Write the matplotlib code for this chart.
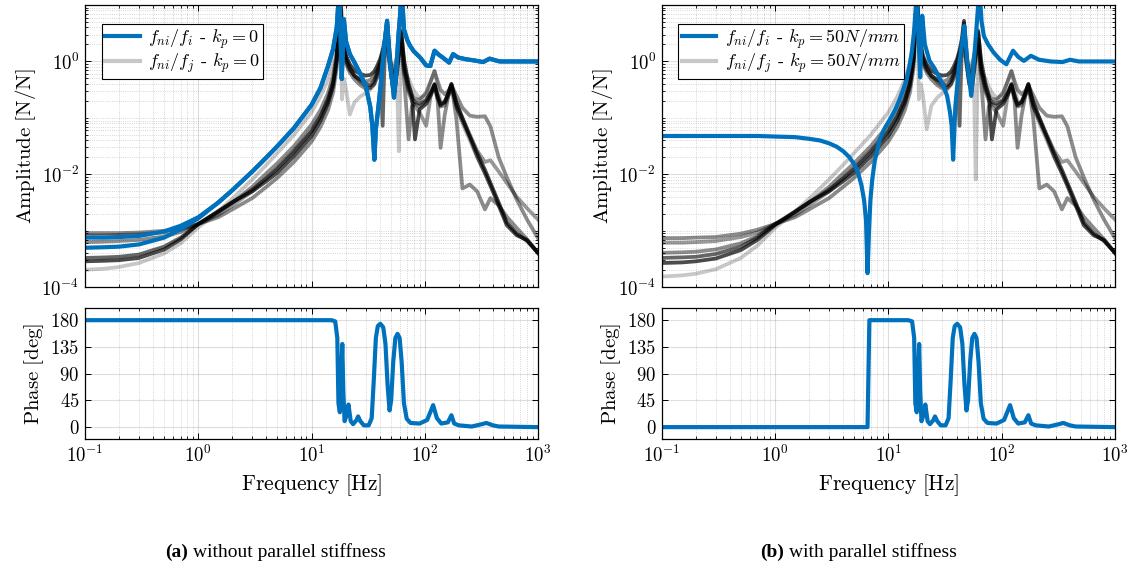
import numpy as np
import matplotlib
matplotlib.use('Agg')
import matplotlib.pyplot as plt
from matplotlib.ticker import LogLocator, NullFormatter, FixedLocator
from matplotlib.lines import Line2D

plt.rcParams.update({
    'font.family': 'serif',
    'font.serif': ['cmr10'],
    'mathtext.fontset': 'cm',
    'axes.formatter.use_mathtext': True,
})

# ---------------- data (log10 of amplitude) ----------------
freq = [0.1, 0.15, 0.2, 0.3, 0.5, 0.7, 1.0, 1.5, 2, 3, 4, 5, 7, 10, 12, 14, 15.5, 16.7,
        17.6, 18.2, 18.6, 19.3, 20.2, 21.8, 24, 27, 30, 33, 35.7, 38, 40.5, 42.5, 44.5, 46.5,
        49, 51.6, 54, 57, 59, 62, 66, 72, 77, 82, 90, 103, 113, 122, 130, 138, 150, 162, 172,
        190, 215, 250, 290, 340, 380, 450, 530, 650, 800, 1000]

# high-frequency part (17.6 Hz and above) of the off-diagonal curves
g1_high = [0.9, 1.0, 0.5, 0.25, 0.05, -0.12, -0.25, -0.32, -0.36, -0.33,
           -0.26, -0.15, 0.0, 0.15, 0.32, 0.55, 0.05, -0.2, -0.1, 0.1,
           0.25, 0.4, -0.15, -0.45, -0.6, -0.66, -0.68, -0.55, -0.35, -0.17,
           -0.35, -0.5, -0.58, -0.52, -0.42, -0.6, -0.82, -0.96, -0.98, -0.97,
           -1.15, -1.70, -2.05, -2.45, -2.80, -3.13]
g2_high = [0.95, 0.8, 0.4, 0.15, -0.05, -0.2, -0.32, -0.42, -0.48, -0.46,
           -0.40, -0.28, -0.12, 0.02, 0.18, 0.30, -0.05, -0.35, -0.3, -0.05,
           0.15, 0.3, -0.35, -1.38, -0.8, -0.75, -0.8, -0.7, -0.55, -0.42,
           -0.7, -1.53, -0.95, -0.6, -0.42, -1.0, -2.25, -2.18, -2.30, -2.62,
           -2.42, -2.55, -2.75, -2.95, -3.15, -3.39]
g3_high = [1.0, 0.7, 0.45, 0.2, 0.0, -0.15, -0.26, -0.33, -0.40, -0.42,
           -0.34, -0.2, -0.05, -1.14, 0.25, 0.68, 0.0, -0.4, -0.45, -0.1,
           0.2, 0.55, -0.1, -0.5, -0.65, -0.72, -0.75, -0.68, -0.55, -0.40,
           -0.6, -0.75, -0.72, -0.55, -0.40, -0.8, -1.05, -1.35, -1.68, -1.98,
           -2.2, -2.55, -2.9, -3.08, -3.16, -3.39]
g4_high = [1.1, 0.9, 0.5, 0.3, 0.1, -0.05, -0.16, -0.22, -0.25, -0.24,
           -0.18, -0.08, 0.05, 0.2, 0.4, 0.72, 0.15, -0.25, -0.55, -0.2,
           0.1, 0.52, 0.0, -0.4, -0.6, -1.38, -0.85, -0.75, -0.6, -0.42,
           -0.65, -0.78, -0.72, -0.56, -0.40, -0.72, -1.0, -1.32, -1.62, -1.92,
           -2.15, -2.5, -2.85, -3.05, -3.18, -3.39]
g5_high_a = [0.8, 0.3, -0.67, -0.3, -0.5, -0.94, -0.72, -0.62, -0.56, -0.50,
             -0.42, -0.3, -0.15, -0.02, 0.12, 0.25, -0.1, -0.35, -0.2, -0.4,
             -1.59, 0.2, -0.2, -0.3, -0.45, -0.55, -0.65, -0.6, -0.35, -0.17,
             -0.45, -0.7, -0.72, -0.6, -0.45, -0.8, -1.1, -1.4, -1.7, -1.98,
             -2.2, -2.55, -2.9, -3.08, -3.16, -3.39]
g5_high_b = [0.8, 0.3, -0.67, -0.4, -0.6, -1.2, -0.78, -0.64, -0.56, -0.50,
             -0.42, -0.3, -0.15, -0.02, 0.12, 0.25, -0.1, -0.35, -0.2, -0.45,
             -2.09, 0.2, -0.2, -0.3, -0.45, -0.55, -0.65, -0.6, -0.35, -0.17,
             -0.45, -0.7, -0.72, -0.6, -0.45, -0.8, -1.1, -1.4, -1.7, -1.98,
             -2.2, -2.55, -2.9, -3.08, -3.16, -3.39]
g6_high = [1.0, 1.1, 0.55, 0.3, 0.08, -0.1, -0.25, -0.36, -0.44, -0.48,
           -0.4, -0.22, 0.0, 0.15, 0.3, 0.45, 0.05, -0.3, -0.2, 0.0,
           0.2, 0.35, -0.2, -0.55, -0.7, -0.8, -0.9, -1.14, -0.6, -0.40,
           -0.6, -0.8, -0.78, -0.6, -0.45, -0.75, -1.0, -1.3, -1.58, -1.78,
           -1.75, -1.95, -2.15, -2.4, -2.6, -2.80]

# low-frequency part (0.1 .. 16.7 Hz), panel (a) k_p = 0
g1_low_a = [-3.04, -3.04, -3.04, -3.03, -3.00, -2.96, -2.88, -2.76, -2.62, -2.42, -2.22, -2.06, -1.78, -1.42, -1.16, -0.86, -0.55, -0.12]
g2_low_a = [-3.20, -3.19, -3.18, -3.16, -3.10, -3.02, -2.88, -2.68, -2.50, -2.22, -1.98, -1.80, -1.50, -1.12, -0.86, -0.56, -0.26, 0.15]
g3_low_a = [-3.48, -3.47, -3.46, -3.42, -3.28, -3.12, -2.88, -2.66, -2.50, -2.27, -2.07, -1.90, -1.60, -1.24, -0.98, -0.68, -0.38, 0.06]
g4_low_a = [-3.54, -3.53, -3.52, -3.48, -3.33, -3.15, -2.88, -2.65, -2.49, -2.30, -2.12, -1.97, -1.68, -1.32, -1.05, -0.74, -0.44, 0.0]
g5_low_a = [-3.69, -3.67, -3.64, -3.57, -3.40, -3.22, -2.94, -2.66, -2.43, -2.09, -1.83, -1.62, -1.30, -0.90, -0.62, -0.32, -0.02, 0.40]
g6_low_a = [-3.08, -3.08, -3.07, -3.06, -3.03, -2.98, -2.88, -2.72, -2.55, -2.30, -2.06, -1.88, -1.58, -1.22, -0.96, -0.66, -0.36, 0.04]

# low-frequency part, panel (b) k_p = 50 N/mm
g1_low_b = [-3.13, -3.13, -3.12, -3.11, -3.05, -2.98, -2.88, -2.76, -2.62, -2.42, -2.22, -2.06, -1.78, -1.42, -1.16, -0.86, -0.55, -0.12]
g2_low_b = [-3.39, -3.38, -3.37, -3.33, -3.22, -3.09, -2.88, -2.68, -2.50, -2.22, -1.98, -1.80, -1.50, -1.12, -0.86, -0.56, -0.26, 0.15]
g3_low_b = [-3.48, -3.47, -3.46, -3.41, -3.28, -3.12, -2.88, -2.66, -2.50, -2.27, -2.07, -1.90, -1.60, -1.24, -0.98, -0.68, -0.38, 0.06]
g4_low_b = [-3.57, -3.56, -3.54, -3.49, -3.34, -3.16, -2.90, -2.66, -2.49, -2.30, -2.12, -1.97, -1.68, -1.32, -1.05, -0.74, -0.44, 0.0]
g5_low_b = [-3.81, -3.79, -3.76, -3.68, -3.48, -3.26, -2.95, -2.66, -2.43, -2.09, -1.83, -1.62, -1.30, -0.90, -0.62, -0.32, -0.02, 0.40]
g6_low_b = [-3.21, -3.21, -3.20, -3.18, -3.11, -3.03, -2.88, -2.72, -2.55, -2.30, -2.06, -1.88, -1.58, -1.22, -0.96, -0.66, -0.36, 0.04]

# diagonal terms f_ni/f_i, panel (a)
blue_a_f = [0.1, 0.15, 0.2, 0.3, 0.5, 0.7, 1.0, 1.5, 2, 3, 4, 5, 7, 10, 12, 14, 15.5, 16.7, 17.6, 18.1,
            18.5, 19.3, 20.2, 21.8, 24, 27, 30, 33, 34.5, 35.9, 37, 39, 41, 44, 46.5, 49, 51.6, 53.5, 56, 58.5,
            60.5, 62.5, 65.5, 70, 74, 80, 91, 103, 112, 122, 133, 144, 155, 164, 178, 197, 230, 269, 328, 374,
            420, 460, 600, 1000]
blue_a1 = [-3.12, -3.12, -3.11, -3.09, -3.01, -2.91, -2.76, -2.50, -2.28, -1.95,
           -1.70, -1.50, -1.18, -0.77, -0.47, -0.08, 0.22, 0.60, 1.3, 0.4,
           -0.31, 0.75, 0.35, 0.13, -0.02, -0.22, -0.42, -0.8, -1.15, -1.74,
           -1.2, -0.8, -0.38, 0.3, 0.72, 0.04, -0.35, -0.64, -0.2, 0.45,
           0.8, 1.3, 0.57, 0.38, 0.28, 0.18, 0.07, -0.07, -0.08, 0.19,
           0.12, 0.07, 0.02, -0.02, 0.13, 0.07, 0.04, 0.02, -0.01, 0.05,
           0.02, 0.0, 0.0, 0.0]
blue_a2 = [-3.30, -3.29, -3.28, -3.24, -3.12, -2.97, -2.78, -2.50, -2.28, -1.95,
           -1.70, -1.50, -1.18, -0.77, -0.47, -0.08, 0.22, 0.60, 1.3, 0.4,
           -0.31, 0.75, 0.35, 0.13, -0.02, -0.22, -0.42, -0.8, -1.15, -1.74,
           -1.2, -0.8, -0.38, 0.3, 0.72, 0.04, -0.35, -0.64, -0.2, 0.45,
           0.8, 1.3, 0.57, 0.38, 0.28, 0.18, 0.07, -0.07, -0.08, 0.19,
           0.12, 0.07, 0.02, -0.02, 0.13, 0.07, 0.04, 0.02, -0.01, 0.05,
           0.02, 0.0, 0.0, 0.0]

# diagonal term f_ni/f_i, panel (b)
blue_b_f = [0.1, 0.3, 0.7, 1.0, 1.5, 2.0, 2.5, 3.0, 3.5, 4.0, 4.5, 5.0, 5.4, 5.8, 6.1, 6.35, 6.55, 6.75, 6.95, 7.2,
            7.6, 8.4, 9.3, 10.3, 11.5, 12.6, 13.6, 14.5, 15.3, 16.1, 16.8, 17.4, 17.8, 18.4, 19.1, 19.9, 21.0, 23.1, 25.5, 27.8,
            30.5, 33.0, 35.0, 36.2, 37.3, 39.0, 42.0, 44.5, 46.8, 50.0, 53.9, 58.0, 60.5, 63.5, 66.5, 69.7, 76, 84.8, 97, 110,
            126, 140, 157, 181, 214, 270, 345, 401, 480, 1000]
blue_b = [-1.32, -1.32, -1.32, -1.33, -1.34, -1.37, -1.40, -1.45, -1.51, -1.59,
          -1.69, -1.82, -1.97, -2.20, -2.45, -2.80, -3.75, -3.0, -2.45, -2.10,
          -1.75, -1.38, -1.18, -1.03, -0.85, -0.67, -0.48, -0.31, -0.10, 0.16,
          0.5, 0.9, 1.3, 0.5, -0.28, 0.81, 0.3, 0.01, -0.12, -0.26,
          -0.42, -0.61, -0.9, -1.14, -1.74, -0.8, -0.08, 0.3, 0.63, -0.08,
          -0.61, 0.22, 0.7, 1.3, 0.7, 0.45, 0.3, 0.16, 0.03, -0.05,
          0.19, 0.08, 0.01, 0.10, 0.03, 0.0, -0.01, 0.03, 0.0, 0.0]

# phase of f_ni/f_i [deg]
phase_a_f = [0.1, 15.0, 16.2, 16.9, 17.3, 17.8, 18.4, 18.7, 19.1, 19.6, 20.4, 21.2, 22.2, 23.3, 25.0, 25.8, 27.0,
             29.0, 32.0, 34.0, 35.5, 37.0, 38.5, 40.5, 43.0, 45.0, 47.0, 48.9, 50.5, 52.7, 55.0, 57.5, 60.0,
             62.5, 65.5, 69.3, 75, 90, 105, 118.6, 128, 140, 160, 172, 182, 200, 260, 320, 350, 400, 450, 1000]
phase_a = [180, 180, 178, 150, 40, 25, 100, 140, 60, 10, 20, 38, 10, 5, 12, 18, 10,
           3, 3, 15, 80, 150, 170, 174, 168, 140, 70, 28, 45, 110, 150, 157, 150,
           110, 40, 14, 7, 6, 12, 37, 15, 6, 8, 20, 6, 3, 1, 5, 7, 3, 1, 0]
phase_b_f = [0.1, 6.55, 6.8, 15.0, 16.2, 16.9, 17.3, 17.8, 18.4, 18.7, 19.1, 19.6, 20.4, 21.2, 22.2, 23.3, 25.0, 25.8, 27.0,
             29.0, 32.0, 34.0, 35.5, 37.0, 38.5, 40.5, 43.0, 45.0, 47.0, 48.9, 50.5, 52.7, 55.0, 57.5, 60.0,
             62.5, 65.5, 69.3, 75, 90, 105, 118.6, 128, 140, 160, 172, 182, 200, 260, 320, 350, 400, 450, 1000]
phase_b = [0, 0, 180, 180, 178, 150, 40, 25, 100, 140, 60, 10, 20, 38, 10, 5, 12, 18, 10,
           3, 3, 15, 80, 150, 170, 174, 168, 140, 70, 28, 45, 110, 150, 157, 150,
           110, 40, 14, 7, 6, 12, 37, 15, 6, 8, 20, 6, 3, 1, 5, 7, 3, 1, 0]

x_ticks = [1e-1, 1e0, 1e1, 1e2, 1e3]
amp_ticks = [1e-4, 1e-2, 1e0]
phase_ticks = [0, 45, 90, 135, 180]
legend_a = [r'$f_{ni}/f_i$ - $k_p = 0$', r'$f_{ni}/f_j$ - $k_p = 0$']
legend_b = [r'$f_{ni}/f_i$ - $k_p = 50N/mm$', r'$f_{ni}/f_j$ - $k_p = 50N/mm$']

# ---------------- style ----------------
BLUE = (0.0, 0.447, 0.741)
LW_B = 3.0
LW_G = 2.7
gray_alpha = [0.45, 0.45, 0.6, 0.7, 0.22, 0.4]
GRID_C = (0.15, 0.15, 0.15)

W, H = 1136, 570
fig = plt.figure(figsize=(W / 100, H / 100), dpi=100)


def rect(x0, y0, x1, y1):
    return [x0 / W, 1 - y1 / H, (x1 - x0) / W, (y1 - y0) / H]


def style_axes(ax):
    ax.set_xscale('log')
    ax.set_xlim(1e-1, 1e3)
    ax.xaxis.set_major_locator(FixedLocator(x_ticks))
    ax.xaxis.set_minor_locator(LogLocator(base=10, subs=np.arange(2, 10), numticks=100))
    ax.xaxis.set_minor_formatter(NullFormatter())
    ax.tick_params(which='both', direction='in', top=True, right=True, labelsize=13.5, pad=4)
    ax.tick_params(which='major', length=4, width=0.7)
    ax.tick_params(which='minor', length=2.2, width=0.6)
    for s in ax.spines.values():
        s.set_linewidth(0.9)
    ax.grid(True, which='major', color=GRID_C, alpha=0.15, linewidth=0.8, linestyle='-')
    ax.set_axisbelow(True)


def amp_axes(ax, grays, blues, blue_f, labels):
    style_axes(ax)
    ax.set_yscale('log')
    for vals, a in zip(grays, gray_alpha):
        ax.plot(freq, 10 ** np.array(vals), color='k', alpha=a, lw=LW_G, solid_joinstyle='round')
    for vals in blues:
        ax.plot(blue_f, 10 ** np.array(vals), color=BLUE, lw=LW_B, solid_joinstyle='round')
    ax.set_ylim(1e-4, 1e1)
    ax.yaxis.set_major_locator(FixedLocator(amp_ticks))
    ax.yaxis.set_minor_locator(LogLocator(base=10, subs=np.arange(1, 10), numticks=100))
    ax.yaxis.set_minor_formatter(NullFormatter())
    ax.grid(True, which='minor', color=GRID_C, alpha=0.25, linewidth=0.6, linestyle=':')
    ax.set_xticklabels([])
    ax.set_ylabel(r'$\mathrm{Amplitude\ [N/N]}$', fontsize=15)
    ax.yaxis.set_label_coords(-0.103, 0.5)
    handles = [Line2D([], [], color=BLUE, lw=LW_B), Line2D([], [], color='k', alpha=0.22, lw=LW_B)]
    leg = ax.legend(handles, labels, loc='upper left', bbox_to_anchor=(0.037, 0.933),
                    borderaxespad=0, fontsize=13, fancybox=False, framealpha=1, edgecolor='k',
                    handlelength=1.9, handletextpad=0.45, borderpad=0.2, labelspacing=0.05)
    leg.get_frame().set_linewidth(0.8)


def phase_axes(ax, pf, pv):
    style_axes(ax)
    ax.plot(pf, pv, color=BLUE, lw=LW_B, solid_joinstyle='round')
    ax.set_ylim(-20, 200)
    ax.set_yticks(phase_ticks)
    ax.grid(True, which='minor', axis='x', color=GRID_C, alpha=0.25, linewidth=0.6, linestyle=':')
    ax.set_ylabel(r'$\mathrm{Phase\ [deg]}$', fontsize=15)
    ax.yaxis.set_label_coords(-0.086, 0.5)
    ax.set_xlabel(r'$\mathrm{Frequency\ [Hz]}$', fontsize=15.5)
    ax.xaxis.set_label_coords(0.5, -0.255)


grays_a = [g1_low_a + g1_high, g2_low_a + g2_high, g3_low_a + g3_high,
           g4_low_a + g4_high, g5_low_a + g5_high_a, g6_low_a + g6_high]
grays_b = [g1_low_b + g1_high, g2_low_b + g2_high, g3_low_b + g3_high,
           g4_low_b + g4_high, g5_low_b + g5_high_b, g6_low_b + g6_high]

ax1 = fig.add_axes(rect(85, 5, 538, 287.3))
ax2 = fig.add_axes(rect(85, 308.3, 538, 439))
ax3 = fig.add_axes(rect(661.7, 5, 1115, 287.3))
ax4 = fig.add_axes(rect(661.7, 308.3, 1115, 439))

amp_axes(ax1, grays_a, [blue_a1, blue_a2], blue_a_f, legend_a)
phase_axes(ax2, phase_a_f, phase_a)
amp_axes(ax3, grays_b, [blue_b], blue_b_f, legend_b)
phase_axes(ax4, phase_b_f, phase_b)

# sub-captions
cap_font = 'Liberation Serif'
for xc, tag, txt in [(165, '(a)', 'without parallel stiffness'), (760, '(b)', 'with parallel stiffness')]:
    t1 = fig.text(xc / W, 1 - 557 / H, tag, fontsize=14, fontweight='bold', family=cap_font, va='baseline')
    ax1.annotate(txt, xy=(1, 0), xycoords=t1, xytext=(3.5, 0), textcoords='offset points',
                 fontsize=14, family=cap_font, va='bottom', annotation_clip=False)

fig.savefig('out.png', dpi=100)
